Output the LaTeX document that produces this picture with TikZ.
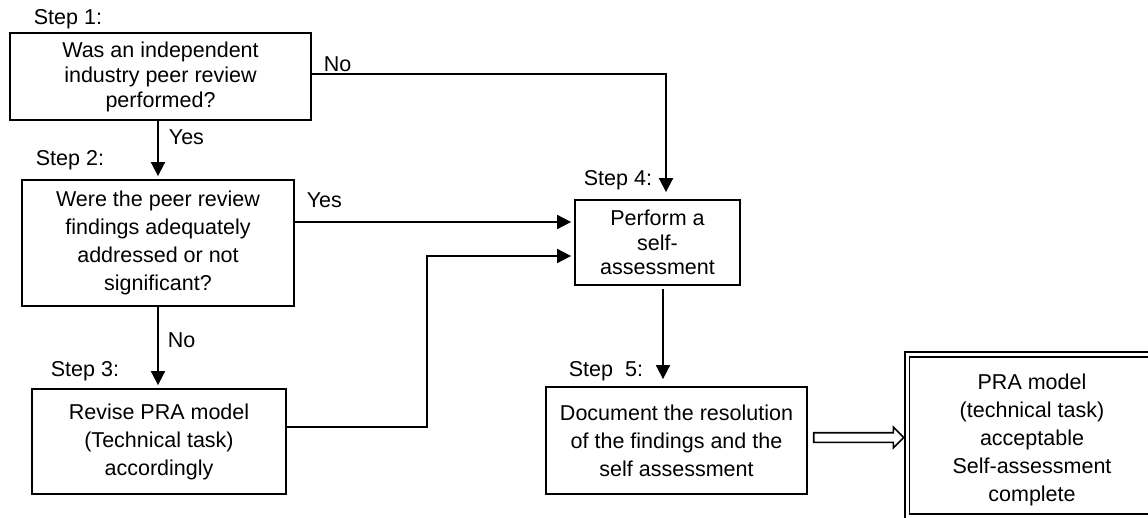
\documentclass[tikz,border=0pt]{standalone}
\usepackage{fontspec}
\setmainfont{Liberation Sans}
\usetikzlibrary{positioning, arrows.meta, shapes.arrows}

\begin{document}
\begin{tikzpicture}[x=1pt, y=-1pt, line width=1.8pt, >={Triangle[length=14pt, width=14pt]},
  font=\fontsize{21.5}{28}\selectfont,
  stepbox/.style={draw, align=center, inner sep=0pt},
  tag/.style={anchor=base west, inner sep=0pt}]
  \useasboundingbox (0, 0) rectangle (1148, 518);

  % step boxes
  \node[stepbox, minimum width=301pt, minimum height=87pt, font=\fontsize{21.5}{25}\selectfont] (b1) at (160.5, 76.5) {Was an independent\\industry peer review\\performed?};
  \node[stepbox, minimum width=272pt, minimum height=126pt] (b2) at (158, 243) {Were the peer review\\findings adequately\\addressed or not\\significant?};
  \node[stepbox, minimum width=254pt, minimum height=105pt] (b3) at (159, 441.5) {Revise PRA model\\(Technical task)\\accordingly};
  \node[stepbox, minimum width=165pt, minimum height=85pt, font=\fontsize{21.5}{24.5}\selectfont] (b4) at (657.5, 242.5) {Perform a\\self-\\assessment};
  \node[stepbox, minimum width=261pt, minimum height=107pt] (b5) at (676.5, 440.5) {Document the resolution\\of the findings and the\\self assessment};
  \node[align=center, inner sep=0pt] (b6) at (1032, 440) {PRA model\\(technical task)\\acceptable\\Self-assessment\\complete};
  \draw[double, double distance=3pt] (1300, 516) -- (907, 516) |- (1300, 354.5);

  % step labels
  \node[tag] (s1) at (33, 25) {Step 1:};
  \node[tag] (s2) at (35, 166) {Step 2:};
  \node[tag] (s3) at (50, 376) {Step 3:};
  \node[tag] (s4) at (583, 186) {Step 4:};
  \node[tag] (s5) at (568, 377) {Step\ \ 5:};

  % connectors
  \coordinate (bend) at (427, 256);
  \coordinate (b4out) at ([xshift=5.5pt]b4.south);
  \draw[->, shorten >=7pt] ([yshift=2.5pt]b1.east) -| ([xshift=8.5pt]b4.north) node[pos=0, tag, xshift=11pt, yshift=2.5pt] {No};
  \draw[->, shorten >=3pt] (b1.south -| b2.north) -- (b2.north) node[midway, tag, xshift=10pt, yshift=5pt] {Yes};
  \draw[->, shorten >=3pt] ([yshift=21pt]b2.east) -- ([yshift=20.5pt]b4.west) node[pos=0, tag, xshift=11pt, yshift=14pt] {Yes};
  \draw[->, shorten >=3pt] (b2.south) -- (b2.south |- b3.north) node[midway, tag, xshift=9pt] {No};
  \draw[->, shorten >=3pt] ([yshift=14.5pt]b3.east) -| (bend) -- ([yshift=-13.5pt]b4.west);
  \draw[->, shorten >=7pt, shorten <=3pt] (b4out) -- (b4out |- b5.north);
  \node[draw, single arrow, line width=1.6pt, minimum height=90pt, text height=4pt, text depth=4pt, single arrow head extend=5.5pt, inner sep=0pt, right=5pt of b5, yshift=3pt] (done) {};
\end{tikzpicture}
\end{document}
